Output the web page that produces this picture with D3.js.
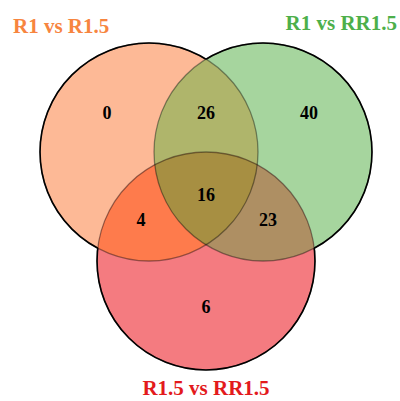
<!DOCTYPE html>
<html>
<head>
<meta charset="utf-8">
<script src="https://cdn.jsdelivr.net/npm/d3@7"></script>
<style>
  html, body { margin: 0; padding: 0; background: #fff; }
  svg { display: block; }
  text { font-family: "Liberation Serif", "Times New Roman", serif; font-weight: bold; }
</style>
</head>
<body>
<svg id="chart" width="400" height="401"></svg>
<script>
// sets (one circle each)
const setNames = ["R1 vs R1.5", "R1 vs RR1.5", "R1.5 vs RR1.5"]
const titleColors = ["#F7853F", "#4DAF4A", "#E31A1C"]

// regions: which sets each region belongs to, and its count
const regionSets = [[0], [1], [2], [0, 1], [0, 2], [1, 2], [0, 1, 2]]
const regionCounts = [0, 40, 6, 26, 4, 23, 16]
const regionFills = ["#FDB996", "#A6D59E", "#F47B80", "#AFB56B", "#FE7B4C", "#AE8F63", "#A78F42"]

// layout in "unit" space (1 unit = distance between the two top centres)
const centers = [[-0.5, 0], [0.5, 0], [0, 0.956]]
const radius = 0.956
const labelPos = [[-0.868, -0.342], [0.904, -0.342], [0, 1.36], [0, -0.342], [-0.57, 0.596], [0.544, 0.596], [0, 0.377]]

const svg = d3.select("#chart")
const x = d3.scaleLinear().domain([-0.5, 0.5]).range([149, 263])
const y = d3.scaleLinear().domain([0, 1]).range([152, 266])
const r = x(radius) - x(0)

const defs = svg.append("defs")

// a clip path per circle
centers.forEach((c, i) => {
  defs.append("clipPath")
    .attr("id", `clip${i}`)
    .append("circle")
    .attr("cx", x(c[0]))
    .attr("cy", y(c[1]))
    .attr("r", r)
})

// mask per circle: outside the other two circles
centers.forEach((c, i) => {
  const m = defs.append("mask").attr("id", `outer${i}`)
  m.append("rect").attr("width", 400).attr("height", 401).attr("fill", "#fff")
  centers.forEach((o, j) => {
    if (j === i) return
    m.append("circle")
      .attr("cx", x(o[0]))
      .attr("cy", y(o[1]))
      .attr("r", r)
      .attr("fill", "#000")
  })
})

// fill regions: draw the last set's circle clipped by each of the others
const fills = svg.append("g")
regionSets.forEach((sets, k) => {
  let g = fills
  sets.slice(0, -1).forEach(s => {
    g = g.append("g").attr("clip-path", `url(#clip${s})`)
  })
  const c = centers[sets[sets.length - 1]]
  g.append("circle")
    .attr("cx", x(c[0]))
    .attr("cy", y(c[1]))
    .attr("r", r)
    .attr("fill", regionFills[k])
})

// outlines: dim inside other circles, black on the outside
const lines = svg.append("g").attr("fill", "none")
centers.forEach((c, i) => {
  lines.append("circle")
    .attr("cx", x(c[0]))
    .attr("cy", y(c[1]))
    .attr("r", r)
    .attr("stroke", "#000")
    .attr("stroke-opacity", 0.4)
    .attr("stroke-width", 1.3)
  lines.append("circle")
    .attr("cx", x(c[0]))
    .attr("cy", y(c[1]))
    .attr("r", r)
    .attr("stroke", "#000")
    .attr("stroke-width", 1.6)
    .attr("mask", `url(#outer${i})`)
})

// region counts
svg.append("g")
  .selectAll("text")
  .data(regionCounts)
  .join("text")
  .attr("x", (d, k) => x(labelPos[k][0]))
  .attr("y", (d, k) => y(labelPos[k][1]))
  .attr("text-anchor", "middle")
  .attr("dominant-baseline", "central")
  .attr("font-size", 18)
  .attr("fill", "#000")
  .text(d => d)

// set titles
const titleSpec = [
  { x: 13, y: 33, anchor: "start" },
  { x: 397, y: 30, anchor: "end" },
  { x: 206, y: 395, anchor: "middle" }
]
svg.append("g")
  .selectAll("text")
  .data(setNames)
  .join("text")
  .attr("x", (d, i) => titleSpec[i].x)
  .attr("y", (d, i) => titleSpec[i].y)
  .attr("text-anchor", (d, i) => titleSpec[i].anchor)
  .attr("font-size", 21)
  .attr("fill", (d, i) => titleColors[i])
  .text(d => d)
</script>
</body>
</html>
